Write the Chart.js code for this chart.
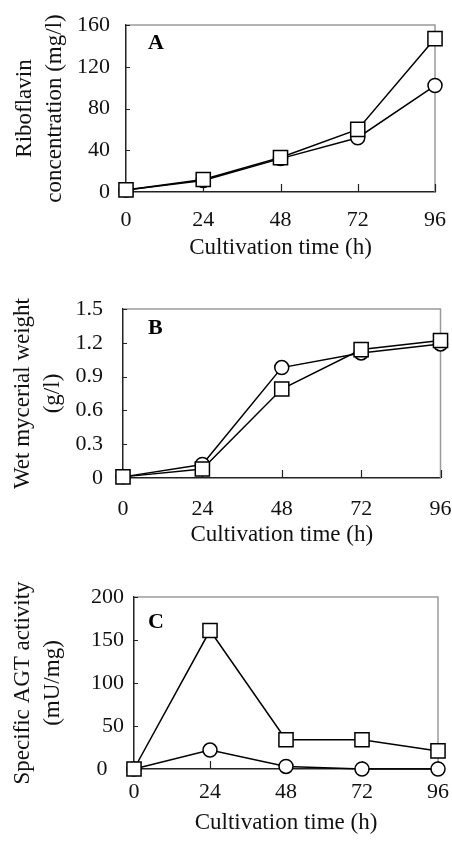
<!DOCTYPE html>
<html>
<head>
<meta charset="utf-8">
<script src="https://cdn.jsdelivr.net/npm/chart.js"></script>
<style>
  body { margin: 0; background: #fff; width: 452px; height: 842px; position: relative; overflow: hidden; }
  .panel { position: absolute; left: 0; width: 452px; }
</style>
</head>
<body>
<div class="panel" style="top:0px;height:262px"><canvas id="chartA"></canvas></div>
<div class="panel" style="top:280px;height:269px"><canvas id="chartB"></canvas></div>
<div class="panel" style="top:560px;height:277px"><canvas id="chartC"></canvas></div>
<script>
// cultivation time points (h)
var hours = [0, 24, 48, 72, 96];

// A: riboflavin concentration (mg/l)
var riboCircle = [2, 11, 32, 52, 102];
var riboSquare = [2, 12, 33, 60, 147];

// B: wet mycerial weight (g/l)
var weightCircle = [0.01, 0.12, 0.98, 1.11, 1.19];
var weightSquare = [0.01, 0.08, 0.79, 1.14, 1.22];

// C: specific AGT activity (mU/mg)
var agtCircle = [0, 22, 3, 0, 0];
var agtSquare = [0, 161, 34, 34, 21];

var serif = '"Liberation Serif", "Times New Roman", serif';

// gray top/right frame, inward tick marks and the panel letter
var framePlugin = {
  id: 'frame',
  beforeDatasetsDraw: function (chart, args, o) {
    var ctx = chart.ctx, a = chart.chartArea;
    var xs = chart.scales.x, ys = chart.scales.y;
    ctx.save();
    ctx.strokeStyle = '#9a9a9a';
    ctx.lineWidth = 1.5;
    ctx.beginPath();
    ctx.moveTo(a.left, a.top);
    ctx.lineTo(a.right, a.top);
    ctx.lineTo(a.right, a.bottom);
    ctx.stroke();

    ctx.strokeStyle = '#222';
    ctx.lineWidth = 1.2;
    ctx.beginPath();
    xs.ticks.forEach(function (t) {
      var px = Math.round(xs.getPixelForValue(t.value)) + 0.5;
      ctx.moveTo(px, a.bottom);
      ctx.lineTo(px, a.bottom - 8);
    });
    ys.ticks.forEach(function (t) {
      var py = Math.round(ys.getPixelForValue(t.value)) + 0.5;
      ctx.moveTo(a.left, py);
      ctx.lineTo(a.left + 4, py);
    });
    ctx.stroke();

    ctx.font = 'bold 22px ' + serif;
    ctx.fillStyle = '#000';
    ctx.textBaseline = 'middle';
    ctx.fillText(o.letter, a.left + o.dx, a.top + o.dy);
    ctx.restore();
  }
};

function toPoints(ys) {
  return hours.map(function (h, i) { return {x: h, y: ys[i]}; });
}

function series(ys, style, r) {
  return {
    data: toPoints(ys),
    borderColor: '#000',
    borderWidth: 1.5,
    backgroundColor: '#fff',
    pointStyle: style,
    pointRadius: r,
    pointBorderWidth: 1.5,
    pointBorderColor: '#000',
    pointBackgroundColor: '#fff',
    tension: 0,
    clip: false
  };
}

function makeChart(id, p) {
  new Chart(id, {
    type: 'line',
    data: {
      // first dataset is painted last, so squares sit on top of circles
      datasets: [
        series(p.square, 'rect', 10),
        series(p.circle, 'circle', 7)
      ]
    },
    plugins: [framePlugin],
    options: {
      responsive: true,
      maintainAspectRatio: false,
      animation: false,
      layout: {padding: {left: 0, top: p.padTop, right: p.padRight, bottom: 0}},
      plugins: {
        legend: {display: false},
        tooltip: {enabled: false},
        frame: {letter: p.letter, dx: p.letterDx, dy: p.letterDy}
      },
      scales: {
        x: {
          type: 'linear',
          min: 0, max: 96,
          afterFit: function (s) {
            s.height = p.xHeight;
            s.paddingLeft = 0;
            s.paddingRight = 0;
          },
          border: {display: true, color: '#222', width: 1.5},
          grid: {drawOnChartArea: false, drawTicks: false},
          ticks: {stepSize: 24, padding: p.xPad, color: '#111', font: {family: serif, size: 22}},
          title: {display: true, text: 'Cultivation time (h)', color: '#111', padding: 0,
                  font: {family: serif, size: 23, lineHeight: 1.2}}
        },
        y: {
          min: p.yMin, max: p.yMax,
          afterFit: function (s) {
            s.width = p.yWidth;
            s.paddingTop = 0;
            s.paddingBottom = 0;
          },
          border: {display: true, color: '#222', width: 1.5},
          grid: {drawOnChartArea: false, drawTicks: false},
          ticks: {
            stepSize: p.yStep, padding: p.yPad, color: '#111',
            font: {family: serif, size: 22},
            callback: function (v) {
              var s = String(Number(v.toFixed(2)));
              return v === 0 ? s + p.zeroGap : s;
            }
          },
          title: {display: true, text: p.yTitle, color: '#111', padding: {top: p.yTitlePad, bottom: 0},
                  font: {family: serif, size: 23, lineHeight: 1.3}}
        }
      }
    }
  });
}

makeChart('chartA', {
  circle: riboCircle, square: riboSquare,
  yMin: 0, yMax: 160, yStep: 40,
  yTitle: ['Riboflavin', 'concentration (mg/l)'],
  letter: 'A', letterDx: 22, letterDy: 18,
  padTop: 25, padRight: 17, xHeight: 70, yWidth: 126,
  xPad: 15, yPad: 16, yTitlePad: 10, zeroGap: ''
});

makeChart('chartB', {
  circle: weightCircle, square: weightSquare,
  yMin: 0, yMax: 1.5, yStep: 0.3,
  yTitle: ['Wet mycerial weight', '(g/l)'],
  letter: 'B', letterDx: 25, letterDy: 19,
  padTop: 29, padRight: 10, xHeight: 71, yWidth: 123,
  xPad: 18, yPad: 20, yTitlePad: 8, zeroGap: ''
});

makeChart('chartC', {
  circle: agtCircle, square: agtSquare,
  yMin: 0, yMax: 200, yStep: 50,
  yTitle: ['Specific AGT activity', '(mU/mg)'],
  letter: 'C', letterDx: 14, letterDy: 25,
  padTop: 37, padRight: 14, xHeight: 68, yWidth: 134,
  xPad: 10, yPad: 10, yTitlePad: 8, zeroGap: '   '
});
</script>
</body>
</html>
